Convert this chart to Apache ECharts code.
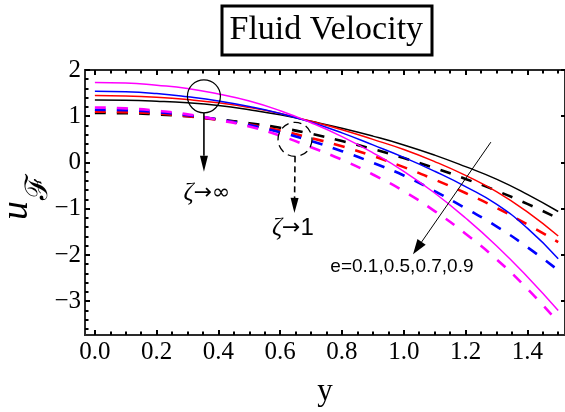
<!DOCTYPE html>
<html>
<head>
<meta charset="utf-8">
<script src="https://cdn.jsdelivr.net/npm/echarts@6/dist/echarts.min.js"></script>
<style>
  html, body { margin: 0; padding: 0; background: #fff; }
  #chart { width: 565px; height: 412px; }
</style>
</head>
<body>
<div id="chart"></div>
<script>
// Sample points along the channel coordinate y
const yCoords = [0.0, 0.1, 0.2, 0.3, 0.4, 0.5, 0.6, 0.7, 0.8, 0.9, 1.0, 1.1, 1.2, 1.3, 1.4, 1.5];

// Eccentricity values, one curve per value
const eValues = ['0.1', '0.5', '0.7', '0.9'];

// Fluid velocity for zeta -> infinity (solid curves)
const uInfE01 = [1.35, 1.345, 1.325, 1.29, 1.23, 1.14, 1.03, 0.89, 0.74, 0.57, 0.38, 0.16, -0.09, -0.36, -0.69, -1.06];
const uInfE05 = [1.45, 1.44, 1.41, 1.36, 1.29, 1.19, 1.06, 0.89, 0.71, 0.50, 0.28, 0.02, -0.28, -0.63, -1.07, -1.59];
const uInfE07 = [1.54, 1.53, 1.49, 1.42, 1.33, 1.21, 1.06, 0.87, 0.64, 0.38, 0.11, -0.19, -0.52, -0.90, -1.42, -2.08];
const uInfE09 = [1.73, 1.72, 1.67, 1.60, 1.48, 1.33, 1.12, 0.86, 0.56, 0.21, -0.19, -0.66, -1.20, -1.80, -2.47, -3.20];

// Fluid velocity for zeta -> 1 (dashed curves)
const uOneE01 = [1.07, 1.065, 1.04, 1.00, 0.93, 0.85, 0.75, 0.62, 0.465, 0.29, 0.095, -0.12, -0.355, -0.61, -0.895, -1.21];
const uOneE05 = [1.10, 1.09, 1.06, 1.00, 0.92, 0.82, 0.69, 0.53, 0.35, 0.14, -0.10, -0.37, -0.66, -0.98, -1.34, -1.72];
const uOneE07 = [1.14, 1.13, 1.09, 1.02, 0.93, 0.81, 0.655, 0.465, 0.245, -0.005, -0.28, -0.62, -0.99, -1.38, -1.83, -2.33];
const uOneE09 = [1.19, 1.17, 1.12, 1.04, 0.92, 0.78, 0.58, 0.33, 0.06, -0.26, -0.62, -1.05, -1.54, -2.09, -2.73, -3.45];

// Tick labels
const xTicks = [0.0, 0.2, 0.4, 0.6, 0.8, 1.0, 1.2, 1.4];
const yTicks = [-3, -2, -1, 0, 1, 2];

// Axis extents
const X_MIN = -0.032, X_MAX = 1.522;
const Y_MIN = -3.73, Y_MAX = 2;

// Minor tick positions (every 0.05 on x, every 0.2 on y)
const xMinor = [];
for (let k = 0; k <= 30; k++) if (k % 4 !== 0) xMinor.push(Math.round(k * 5) / 100);
const yMinor = [];
for (let k = -18; k <= 10; k++) if (k % 5 !== 0) yMinor.push(Math.round(k * 2) / 10);

const colors = ['#000000', '#ff0000', '#0000ff', '#ff00ff'];
const solidSets = [uInfE01, uInfE05, uInfE07, uInfE09];
const dashedSets = [uOneE01, uOneE05, uOneE07, uOneE09];

const SERIF = 'Liberation Serif, Times New Roman, serif';
const SANS = 'Liberation Sans, Arial, sans-serif';
const SYMB = 'DejaVu Sans, sans-serif';
const axisColor = '#2a2a2a';

function pair(vals) { return yCoords.map((y, i) => [y, vals[i]]); }

function xAxisDef(position, ticks, len, withLabels) {
  const ax = {
    type: 'value', position: position, min: X_MIN, max: X_MAX,
    axisLine: { show: true, onZero: false, lineStyle: { color: axisColor, width: 2 } },
    axisTick: { show: true, inside: true, length: len, customValues: ticks, lineStyle: { color: '#000', width: 2 } },
    axisLabel: { show: false },
    splitLine: { show: false }
  };
  if (withLabels) {
    ax.axisLabel = {
      show: true, customValues: xTicks, margin: 5,
      formatter: v => Number(v).toFixed(1),
      fontFamily: SERIF, fontSize: 25, color: '#000'
    };
    ax.name = 'y';
    ax.nameLocation = 'middle';
    ax.nameGap = 41;
    ax.nameTextStyle = { fontFamily: SERIF, fontSize: 31, color: '#000' };
  }
  return ax;
}

function yAxisDef(position, ticks, len, withLabels) {
  const ax = {
    type: 'value', position: position, min: Y_MIN, max: Y_MAX,
    axisLine: { show: true, onZero: false, lineStyle: { color: axisColor, width: 2 } },
    axisTick: { show: true, inside: true, length: len, customValues: ticks, lineStyle: { color: '#000', width: 2 } },
    axisLabel: { show: false },
    splitLine: { show: false }
  };
  if (withLabels) {
    ax.axisLabel = {
      show: true, customValues: yTicks, margin: 4,
      formatter: v => (v < 0 ? '\u2212' + Math.abs(v) : String(v)),
      fontFamily: SERIF, fontSize: 25, color: '#000'
    };
  }
  return ax;
}

const series = [];
solidSets.forEach((vals, i) => {
  series.push({
    name: 'e=' + eValues[i] + ' (\u03b6\u2192\u221e)',
    type: 'line', data: pair(vals), smooth: true, showSymbol: false, silent: true,
    lineStyle: { color: colors[i], width: 1.5 }, z: 3
  });
});
dashedSets.forEach((vals, i) => {
  series.push({
    name: 'e=' + eValues[i] + ' (\u03b6\u21921)',
    type: 'line', data: pair(vals), smooth: true, showSymbol: false, silent: true,
    lineStyle: { color: colors[i], width: 2.6, type: [11, 11] }, z: 2
  });
});

const chart = echarts.init(document.getElementById('chart'), null, { renderer: 'canvas' });
chart.setOption({
  animation: false,
  backgroundColor: '#fff',
  title: {
    text: 'Fluid Velocity',
    left: 221.5, top: 5.5,
    padding: [6, 9, 6, 8],
    borderWidth: 3, borderColor: '#000',
    textStyle: { fontFamily: SERIF, fontSize: 34, fontWeight: 'normal', color: '#000', lineHeight: 38 }
  },
  grid: { left: 85, right: 0, top: 70, bottom: 73 },
  xAxis: [
    xAxisDef('bottom', xTicks, 5, true),
    xAxisDef('bottom', xMinor, 3.5, false),
    xAxisDef('top', xTicks, 5, false),
    xAxisDef('top', xMinor, 3.5, false)
  ],
  yAxis: [
    yAxisDef('left', yTicks, 5, true),
    yAxisDef('left', yMinor, 3.5, false),
    yAxisDef('right', yTicks, 4, false)
  ],
  series: series
});

// Annotations anchored in data coordinates
function px(x, y) { return chart.convertToPixel({ xAxisIndex: 0, yAxisIndex: 0 }, [x, y]); }

function arrow(from, to, headLen, headHalf, style) {
  const dx = to[0] - from[0], dy = to[1] - from[1];
  const L = Math.hypot(dx, dy), ux = dx / L, uy = dy / L;
  const bx = to[0] - ux * headLen, by = to[1] - uy * headLen;
  return [
    { type: 'line', shape: { x1: from[0], y1: from[1], x2: bx, y2: by }, style: style, z: 10 },
    { type: 'polygon', shape: { points: [[to[0], to[1]], [bx - uy * headHalf, by + ux * headHalf], [bx + uy * headHalf, by - ux * headHalf]] },
      style: { fill: '#000', stroke: null }, z: 10 }
  ];
}

const cInf = px(0.353, 1.43);
const tipInf = px(0.353, -0.2);
const txtInf = px(0.363, -0.67);
const cOne = px(0.648, 0.50);
const tipOne = px(0.646, -1.09);
const txtOne = px(0.641, -1.43);
const eFrom = px(1.282, 0.44);
const eTip = px(1.030, -1.985);
const eTxt = px(0.994, -2.26);
const plotMidY = px(0, (Y_MIN + Y_MAX) / 2)[1];

const zetaRich = {
  z: { fontFamily: SERIF, fontStyle: 'italic', fontSize: 25, fill: '#000' },
  a: { fontFamily: SYMB, fontSize: 22, fill: '#000' },
  n: { fontFamily: SANS, fontSize: 24, fill: '#000' }
};

const graphics = [
  // vertical axis title u with script F subscript
  { type: 'text', x: 17, y: plotMidY + 8, rotation: Math.PI / 2,
    style: { text: 'u', fontFamily: SERIF, fontStyle: 'italic', fontSize: 38, fill: '#000', align: 'center', verticalAlign: 'middle' }, z: 10 },
  { type: 'text', x: 39, y: plotMidY - 16, rotation: Math.PI / 2,
    style: { text: '\u2131', fontFamily: 'DejaVu Serif, serif', fontSize: 31, fill: '#000', align: 'center', verticalAlign: 'middle' }, z: 10 },
  { type: 'circle', shape: { cx: cInf[0], cy: cInf[1], r: 16.5 }, style: { fill: null, stroke: '#000', lineWidth: 1.2 }, z: 10 },
  ...arrow([cInf[0], cInf[1] + 16.5], tipInf, 16, 4, { stroke: '#000', lineWidth: 1.6 }),
  { type: 'text', x: txtInf[0], y: txtInf[1], style: {
      text: '{z|\u03b6}{a|\u2192}{a|\u221e}', align: 'center', verticalAlign: 'middle', rich: zetaRich
    }, z: 10 },
  { type: 'circle', shape: { cx: cOne[0], cy: cOne[1], r: 17 }, style: { fill: null, stroke: '#000', lineWidth: 1.3, lineDash: [8, 5] }, z: 10 },
  ...arrow([cOne[0], cOne[1] + 17], tipOne, 15, 4, { stroke: '#000', lineWidth: 1.6, lineDash: [6, 4] }),
  { type: 'text', x: txtOne[0], y: txtOne[1], style: {
      text: '{z|\u03b6}{a|\u2192}{n|1}', align: 'center', verticalAlign: 'middle', rich: zetaRich
    }, z: 10 },
  ...arrow(eFrom, eTip, 15, 5, { stroke: '#000', lineWidth: 1 }),
  { type: 'text', x: eTxt[0], y: eTxt[1], style: { text: 'e=0.1,0.5,0.7,0.9', fontFamily: SANS, fontSize: 19, fill: '#000', align: 'center', verticalAlign: 'middle' }, z: 10 }
];
chart.setOption({ graphic: graphics });
</script>
</body>
</html>
